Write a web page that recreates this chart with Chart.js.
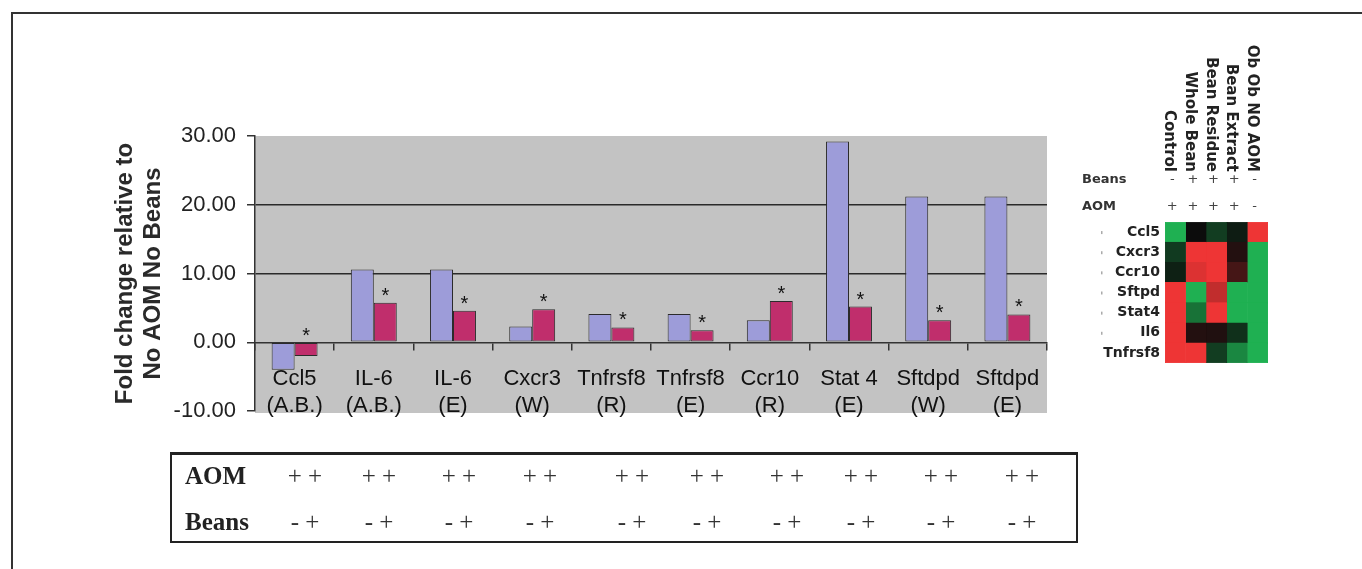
<!DOCTYPE html>
<html>
<head>
<meta charset="utf-8">
<script src="https://cdn.jsdelivr.net/npm/chart.js@4.4.1/dist/chart.umd.min.js"></script>
<style>
  html, body { margin: 0; padding: 0; background: #fff; }
  body { width: 1362px; height: 569px; position: relative; overflow: hidden; font-family: "Liberation Sans", Arial, sans-serif; }
  #frame { position: absolute; left: 11px; top: 12px; width: 1400px; height: 600px; border-top: 2px solid #333; border-left: 2px solid #333; }
  #main { position: absolute; left: 0; top: 0; }
  #heat { position: absolute; left: 1070px; top: 20px; }
  #treat { position: absolute; left: 170px; top: 452px; width: 904px; height: 86px; border: 2px solid #222; border-top-width: 3px; }
  #treat .rowname { position: absolute; left: 13px; line-height: 30px; font: bold 25px "Liberation Serif", "Times New Roman", serif; color: #222; }
  #treat .mark { position: absolute; line-height: 30px; font: 25px "Liberation Serif", "Times New Roman", serif; color: #333; transform: translateX(-50%); white-space: pre; }
</style>
</head>
<body>
<div id="frame"></div>
<canvas id="main" width="1070" height="460"></canvas>
<canvas id="heat" width="292" height="360"></canvas>
<div id="treat"></div>

<script>
// ---- Fold-change bar chart data ----
const categories = [
  ['Ccl5', '(A.B.)'], ['IL-6', '(A.B.)'], ['IL-6', '(E)'], ['Cxcr3', '(W)'],
  ['Tnfrsf8', '(R)'], ['Tnfrsf8', '(E)'], ['Ccr10', '(R)'], ['Stat 4', '(E)'],
  ['Sftdpd', '(W)'], ['Sftdpd', '(E)']
];
const aomNoBeans = [-4.0, 10.6, 10.6, 2.3, 4.1, 4.1, 3.2, 29.2, 21.2, 21.2];
const aomBeans   = [-2.0, 5.75, 4.6, 4.8, 2.15, 1.75, 6.0, 5.2, 3.2, 4.05];
const significant = [true, true, true, true, true, true, true, true, true, true];
const yMin = -10, yMax = 30, yStep = 10;

// ---- Treatment table ----
const aomMarks  = ['+ +', '+ +', '+ +', '+ +', '+ +', '+ +', '+ +', '+ +', '+ +', '+ +'];
const beanMarks = ['- +', '- +', '- +', '- +', '- +', '- +', '- +', '- +', '- +', '- +'];

// ---- Heat map data (log-ratio level, + red / - green) ----
const geneRows  = ['Ccl5', 'Cxcr3', 'Ccr10', 'Sftpd', 'Stat4', 'Il6', 'Tnfrsf8'];
const groupCols = ['Control', 'Whole Bean', 'Bean Residue', 'Bean Extract', 'Ob Ob NO AOM'];
const beansRow  = ['-', '+', '+', '+', '-'];
const aomRow    = ['+', '+', '+', '+', '-'];
const heatControl      = [-1, -0.28, -0.12, 1, 1, 1, 1];
const heatWholeBean    = [0, 1, 0.92, -1, -0.62, 0.1, 1];
const heatBeanResidue  = [-0.3, 1, 1, 0.8, 1, 0.09, -0.3];
const heatBeanExtract  = [-0.1, 0.1, 0.25, -1, -1, -0.22, -0.75];
const heatObObNoAom    = [1, -1, -1, -1, -1, -1, -1];
const heatLevels = [heatControl, heatWholeBean, heatBeanResidue, heatBeanExtract, heatObObNoAom];
const cellSpan = 1;

// ---- Layout of the treatment table (pixel centres inside the box) ----
const tableColumnX = [133, 207, 287, 368, 460, 535, 615, 689, 769, 850];

function levelColor(v) {
  const base = [12, 12, 12];
  const up = [238, 53, 53], down = [31, 176, 82];
  const t = Math.min(1, Math.abs(v));
  const full = v >= 0 ? up : down;
  const c = base.map((b, i) => Math.round(b + (full[i] - b) * t));
  return `rgb(${c[0]},${c[1]},${c[2]})`;
}

const plotBackground = {
  id: 'plotBackground',
  beforeDraw(chart) {
    const { ctx, chartArea: a } = chart;
    ctx.save();
    ctx.fillStyle = '#c3c3c3';
    ctx.fillRect(a.left, a.top, a.right - a.left, a.bottom - a.top + 2);
    ctx.restore();
  }
};

const starMarks = {
  id: 'starMarks',
  afterDatasetsDraw(chart) {
    const meta = chart.getDatasetMeta(1);
    const ctx = chart.ctx;
    ctx.save();
    ctx.font = '20px "Liberation Sans", Arial, sans-serif';
    ctx.fillStyle = '#111';
    ctx.textAlign = 'center';
    ctx.textBaseline = 'alphabetic';
    meta.data.forEach((bar, i) => {
      if (!significant[i]) return;
      const top = Math.min(bar.y, bar.base);
      ctx.fillText('*', bar.x, top - 1);
    });
    ctx.restore();
  }
};

new Chart(document.getElementById('main'), {
  type: 'bar',
  data: {
    labels: categories,
    datasets: [
      { label: 'AOM, no beans', data: aomNoBeans, backgroundColor: '#9d9cd9', borderColor: '#2b2b2b', borderWidth: 1, borderSkipped: false },
      { label: 'AOM, beans', data: aomBeans, backgroundColor: '#c02e6c', borderColor: '#2b2b2b', borderWidth: 1, borderSkipped: false }
    ]
  },
  options: {
    responsive: false,
    animation: false,
    devicePixelRatio: 1,
    layout: { padding: { left: 0, right: 23, top: 136, bottom: 49 } },
    datasets: { bar: { categoryPercentage: 0.58, barPercentage: 1 } },
    plugins: { legend: { display: false }, tooltip: { enabled: false } },
    scales: {
      x: {
        position: { y: 0 },
        offset: true,
        grid: { offset: true, drawOnChartArea: false, color: '#333', tickColor: '#333', tickLength: 7, lineWidth: 1.5 },
        border: { color: '#333', width: 1.5 },
        ticks: {
          autoSkip: false, maxRotation: 0, minRotation: 0, padding: 16, color: '#111',
          font: { family: '"Liberation Sans", Arial, sans-serif', size: 22, lineHeight: '27px' }
        },
        afterFit(s) { s.height = 30; }
      },
      y: {
        min: yMin, max: yMax,
        ticks: {
          stepSize: yStep, padding: 11, color: '#222',
          callback: v => Number(v).toFixed(2),
          font: { family: '"Liberation Sans", Arial, sans-serif', size: 22 }
        },
        grid: {
          color: c => (c.tick && (c.tick.value === 10 || c.tick.value === 20)) ? '#2a2a2a' : 'rgba(0,0,0,0)',
          lineWidth: 1.5, tickColor: '#333', tickLength: 8
        },
        border: { color: '#333', width: 1.5 },
        title: {
          display: true,
          text: ['Fold change relative to', 'No AOM No Beans'],
          color: '#2a2a2a',
          font: { family: '"Liberation Sans", Arial, sans-serif', size: 24, weight: 'bold', lineHeight: '28px' },
          padding: { top: 111, bottom: 0 }
        },
        afterFit(s) { s.width = 255; }
      }
    }
  },
  plugins: [plotBackground, starMarks]
});

// ---- Heat map ----
const heatHeader = {
  id: 'heatHeader',
  afterDraw(chart) {
    const { ctx } = chart;
    const xs = chart.scales.x, ys = chart.scales.y;
    ctx.save();
    // column headers, rotated to read top-down
    ctx.fillStyle = '#222';
    ctx.font = 'bold 15px "DejaVu Sans", sans-serif';
    ctx.textAlign = 'right';
    ctx.textBaseline = 'middle';
    groupCols.forEach((name, c) => {
      const cx = xs.getPixelForValue(c + 0.5) - 6;
      ctx.save();
      ctx.translate(cx, 152);
      ctx.rotate(Math.PI / 2);
      ctx.fillText(name, 0, 0);
      ctx.restore();
    });
    // treatment rows
    ctx.textAlign = 'left';
    ctx.font = 'bold 13px "DejaVu Sans", sans-serif';
    ctx.fillStyle = '#333';
    ctx.fillText('Beans', 12, 160);
    ctx.fillText('AOM', 12, 187);
    ctx.textAlign = 'center';
    ctx.font = '13px "DejaVu Sans", sans-serif';
    ctx.fillStyle = '#444';
    groupCols.forEach((name, c) => {
      const cx = xs.getPixelForValue(c + 0.5) - 3;
      ctx.fillText(beansRow[c], cx, 160);
      ctx.fillText(aomRow[c], cx, 187);
    });
    // faint leader dots before gene names
    ctx.fillStyle = '#aaa';
    geneRows.forEach((g, r) => {
      if (r === geneRows.length - 1) return;
      const y = ys.getPixelForValue(r);
      ctx.fillRect(31, y - 1, 1.5, 3);
    });
    ctx.restore();
  }
};

new Chart(document.getElementById('heat'), {
  type: 'bar',
  data: {
    labels: geneRows,
    datasets: groupCols.map((name, c) => ({
      label: name,
      data: geneRows.map(() => cellSpan),
      backgroundColor: heatLevels[c].map(levelColor),
      borderColor: heatLevels[c].map(levelColor),
      borderWidth: 0.5,
      borderSkipped: false,
      barPercentage: 1,
      categoryPercentage: 1
    }))
  },
  options: {
    indexAxis: 'y',
    responsive: false,
    animation: false,
    devicePixelRatio: 1,
    layout: { padding: { left: 0, right: 94, top: 202, bottom: 17 } },
    plugins: { legend: { display: false }, tooltip: { enabled: false } },
    scales: {
      x: { stacked: true, min: 0, max: groupCols.length, display: false },
      y: {
        stacked: true,
        grid: { display: false, drawTicks: false },
        border: { display: false },
        ticks: { padding: 5, color: '#222', font: { family: '"DejaVu Sans", sans-serif', size: 14, weight: 'bold' } },
        afterFit(s) { s.width = 95; }
      }
    }
  },
  plugins: [heatHeader]
});

// ---- Treatment table below the bars ----
(function buildTable() {
  const box = document.getElementById('treat');
  const rows = [['AOM', aomMarks, 7], ['Beans', beanMarks, 53]];
  rows.forEach(([name, marks, top]) => {
    const n = document.createElement('div');
    n.className = 'rowname';
    n.style.top = top + 'px';
    n.textContent = name;
    box.appendChild(n);
    marks.forEach((m, i) => {
      const d = document.createElement('div');
      d.className = 'mark';
      d.style.top = top + 'px';
      d.style.left = tableColumnX[i] + 'px';
      d.textContent = m;
      box.appendChild(d);
    });
  });
})();
</script>
</body>
</html>
